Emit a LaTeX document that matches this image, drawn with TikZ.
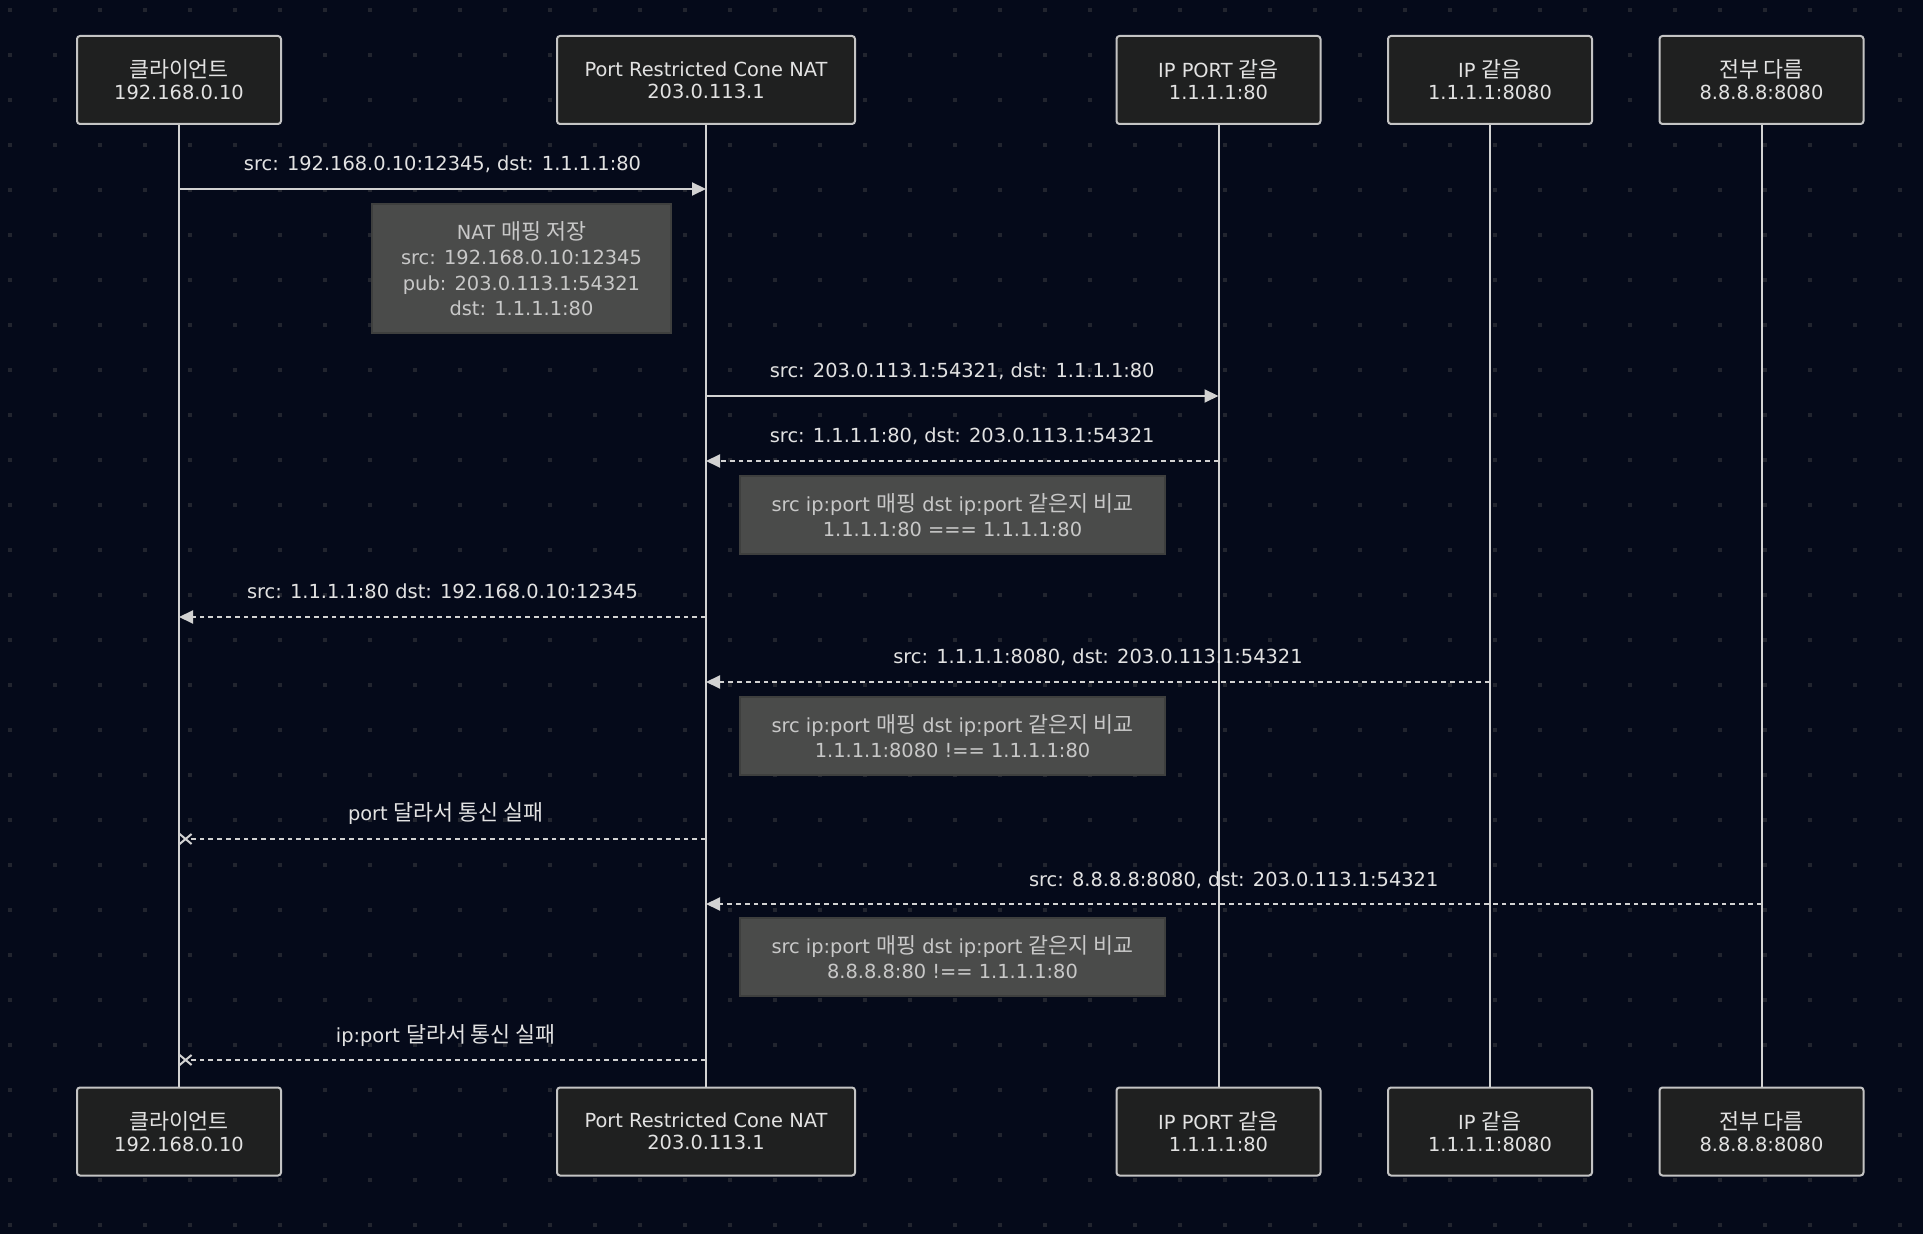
\documentclass[tikz,border=0pt]{standalone}
\usepackage{fontspec}
\setmainfont{DejaVu Sans}
\newfontfamily\kr[Scale=1.12]{Noto Sans CJK KR}
\usetikzlibrary{arrows.meta,shapes.misc}

\definecolor{bgnavy}{HTML}{050A1A}
\definecolor{griddot}{HTML}{22252F}
\definecolor{actorfill}{HTML}{1F2020}
\definecolor{actorline}{HTML}{C4C4C4}
\definecolor{notefill}{HTML}{4A4B4A}
\definecolor{noteline}{HTML}{3E3F3E}
\definecolor{notetext}{HTML}{C8C8C8}
\definecolor{wire}{HTML}{D2D2D2}
\definecolor{labeltext}{HTML}{E2E2E2}

\tikzset{
  actor/.style={draw=actorline, fill=actorfill, line width=1pt, rounded corners=1.5pt,
    minimum width=102pt, minimum height=44pt, align=center, text=labeltext,
    font=\fontsize{9.7pt}{11pt}\selectfont},
  note/.style={draw=noteline, fill=notefill, line width=1pt, align=center, text=notetext,
    font=\fontsize{9.7pt}{12.7pt}\selectfont},
  msg/.style={draw=wire, line width=1pt, -{Triangle[length=7pt,width=6.5pt]}},
  reply/.style={msg, dash pattern=on 2.4pt off 2pt},
  lost/.style={draw=wire, line width=1pt, dash pattern=on 2.4pt off 2pt},
  xmark/.style={cross out, draw=wire, line width=1pt, minimum width=5pt,
    minimum height=4pt, inner sep=0pt},
  lbl/.style={midway, anchor=base, yshift=9pt, text=labeltext,
    font=\fontsize{9.7pt}{11pt}\selectfont},
}

\begin{document}
\begin{tikzpicture}[x=0.5pt, y=-0.5pt]

  % ---------- background and dot grid ----------
  \fill[bgnavy] (0,0) rectangle (1923,1234);
  \useasboundingbox (0,0) rectangle (1923,1234);
  \foreach \i in {0,...,42}
    \foreach \j in {0,...,27}
      \fill[griddot] ({10+45*\i},{10+45*\j}) +(-2.2,-2.2) rectangle +(2.2,2.2);

  % ---------- participants, top and bottom ----------
  \foreach \s/\y in {top/80,end/1131.5}{
    \node[actor] (cli-\s) at (179,\y) {{\kr 클라이언트}\\192.168.0.10};
    \node[actor, minimum width=149pt] (nat-\s) at (706,\y) {Port Restricted Cone NAT\\203.0.113.1};
    \node[actor] (ipp-\s) at (1218.5,\y) {IP PORT {\kr 같음}\\1.1.1.1:80};
    \node[actor] (ip-\s) at (1490,\y) {IP {\kr 같음}\\1.1.1.1:8080};
    \node[actor] (all-\s) at (1761.5,\y) {{\kr 전부 다름}\\8.8.8.8:8080};
  }

  % ---------- lifelines ----------
  \foreach \p in {cli,nat,ipp,ip,all}
    \draw[wire, line width=1pt] (\p-top) -- (\p-end);

  % ---------- message rows on the lifelines ----------
  \foreach \r/\y in {1/189,2/396,3/461,4/617,5/682,6/839,7/904,8/1060}
    \foreach \p in {cli,nat,ipp,ip,all}
      \coordinate (\p\r) at (\p-top |- 0,\y);

  % ---------- messages ----------
  \draw[msg] (cli1) -- (nat1) node[lbl] {src: 192.168.0.10:12345, dst: 1.1.1.1:80};
  \node[note, anchor=north east, minimum width=149.5pt, minimum height=64.5pt] (map)
    at ([xshift=-17pt,yshift=-7pt]nat1)
    {NAT {\kr 매핑 저장}\\src: 192.168.0.10:12345\\pub: 203.0.113.1:54321\\dst: 1.1.1.1:80};

  \draw[msg] (nat2) -- (ipp2) node[lbl] {src: 203.0.113.1:54321, dst: 1.1.1.1:80};
  \draw[reply] (ipp3) -- (nat3) node[lbl] {src: 1.1.1.1:80, dst: 203.0.113.1:54321};
  \node[note, anchor=north west, minimum width=212.5pt, minimum height=39pt] (cmp1)
    at ([xshift=16.5pt,yshift=-7pt]nat3)
    {src ip:port {\kr 매핑} dst ip:port {\kr 같은지 비교}\\1.1.1.1:80 === 1.1.1.1:80};

  \draw[reply] (nat4) -- (cli4) node[lbl] {src: 1.1.1.1:80 dst: 192.168.0.10:12345};

  \draw[reply] (ip5) -- (nat5) node[lbl] {src: 1.1.1.1:8080, dst: 203.0.113.1:54321};
  \node[note, anchor=north west, minimum width=212.5pt, minimum height=39pt] (cmp2)
    at ([xshift=16.5pt,yshift=-7pt]nat5)
    {src ip:port {\kr 매핑} dst ip:port {\kr 같은지 비교}\\1.1.1.1:8080 !== 1.1.1.1:80};

  \node[xmark] (x6) at ([xshift=3.3pt]cli6) {};
  \draw[lost] (nat6) -- (x6.center) node[lbl] {port {\kr 달라서 통신 실패}};

  \draw[reply] (all7) -- (nat7) node[lbl] {src: 8.8.8.8:8080, dst: 203.0.113.1:54321};
  \node[note, anchor=north west, minimum width=212.5pt, minimum height=39pt] (cmp3)
    at ([xshift=16.5pt,yshift=-6.5pt]nat7)
    {src ip:port {\kr 매핑} dst ip:port {\kr 같은지 비교}\\8.8.8.8:80 !== 1.1.1.1:80};

  \node[xmark] (x8) at ([xshift=3.3pt]cli8) {};
  \draw[lost] (nat8) -- (x8.center) node[lbl] {ip:port {\kr 달라서 통신 실패}};

\end{tikzpicture}
\end{document}
